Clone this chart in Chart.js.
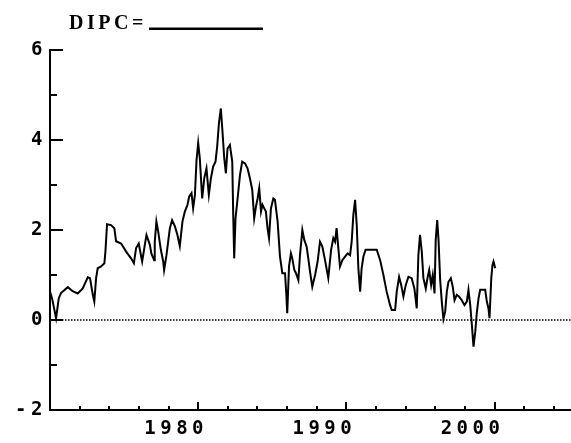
<!DOCTYPE html>
<html>
<head>
<meta charset="utf-8">
<script src="https://cdn.jsdelivr.net/npm/chart.js@4/dist/chart.umd.min.js"></script>
<style>
  body { margin: 0; background: #fff; }
  #wrap { width: 571px; height: 443px; }
</style>
</head>
<body>
<div id="wrap"><canvas id="dipcChart" width="571" height="443"></canvas></div>
<script>
/* ===== data ===== */
const years = [
  1970.00,1970.14,1970.41,1970.59,1970.74,1971.20,1971.53,1971.87,1972.21,1972.55,1972.70,1972.89,1972.99,1973.11,1973.22,1973.45,1973.67,1973.74,1973.85,1974.12,1974.34,1974.46,1974.80,1975.14,1975.47,1975.66,1975.81,1975.99,
  1976.13,1976.22,1976.40,1976.51,1976.74,1976.84,1977.03,1977.07,1977.18,1977.30,1977.48,1977.64,1977.70,1977.86,1978.09,1978.24,1978.43,1978.60,1978.76,1978.94,1979.10,1979.28,1979.39,1979.55,1979.66,1979.78,1979.89,1980.00,1980.11,1980.27,1980.41,1980.56,1980.72,1980.86,1981.01,1981.17,1981.28,1981.40,1981.53,1981.64,1981.76,1981.87,1981.98,1982.14,
  1982.30,1982.36,1982.43,1982.52,1982.66,1982.82,1982.97,1983.16,1983.33,1983.49,1983.65,1983.78,1983.90,1984.01,1984.12,1984.24,1984.34,1984.46,1984.57,1984.68,1984.78,1984.91,1985.07,1985.18,1985.36,1985.52,1985.68,1985.86,1985.95,1986.01,1986.13,1986.26,1986.35,1986.49,1986.60,1986.76,1986.87,1987.03,1987.16,1987.32,1987.43,1987.55,1987.70,1987.89,1988.06,1988.22,
  1988.38,1988.56,1988.78,1988.97,1989.12,1989.24,1989.34,1989.46,1989.57,1989.73,1989.91,1990.09,1990.25,1990.36,1990.47,1990.59,1990.70,1990.81,1990.93,1991.03,1991.15,1991.30,1992.05,1992.28,1992.50,1992.72,1992.95,1993.06,1993.29,1993.40,1993.56,1993.70,1993.85,1994.01,1994.19,
  1994.41,1994.59,1994.75,1994.86,1994.97,1995.09,1995.20,1995.36,1995.49,1995.59,1995.72,1995.83,1995.95,1996.03,1996.13,1996.22,1996.33,1996.44,1996.55,1996.67,1996.78,1996.89,1997.05,1997.18,1997.30,1997.45,1997.61,1997.79,1997.97,1998.13,1998.24,1998.36,1998.47,1998.58,1998.70,1998.80,1998.92,1999.03,1999.37,1999.48,1999.59,1999.66,1999.78,1999.86,1999.93,2000.05
];
const dipc = [
  0.63,0.48,0.04,0.48,0.60,0.73,0.64,0.59,0.70,0.95,0.93,0.56,0.41,0.93,1.15,1.19,1.26,1.52,2.13,2.11,2.04,1.75,1.70,1.52,1.37,1.26,1.60,1.70,
  1.45,1.30,1.67,1.89,1.67,1.48,1.33,1.74,2.19,1.97,1.56,1.30,1.11,1.44,2.04,2.22,2.08,1.89,1.64,2.19,2.41,2.56,2.74,2.82,2.48,2.78,3.56,3.93,3.59,2.70,3.15,3.37,2.78,3.15,3.41,3.52,3.85,4.37,4.70,4.19,3.59,3.26,3.81,3.89,
  3.52,2.41,1.37,2.26,2.70,3.22,3.52,3.48,3.37,3.15,2.89,2.26,2.52,2.70,2.93,2.41,2.56,2.48,2.41,2.04,1.82,2.48,2.70,2.67,2.19,1.41,1.04,1.04,0.56,0.15,1.19,1.48,1.37,1.11,1.04,0.89,1.44,2.00,1.78,1.63,1.37,1.07,0.74,1.00,1.30,1.74,
  1.63,1.33,0.93,1.56,1.82,1.74,2.04,1.59,1.19,1.33,1.41,1.48,1.44,1.74,2.33,2.67,2.11,1.15,0.63,1.15,1.41,1.56,1.56,1.33,1.00,0.63,0.33,0.22,0.22,0.63,0.96,0.78,0.52,0.78,0.96,
  0.93,0.70,0.26,1.44,1.89,1.52,0.93,0.70,0.96,1.11,0.78,1.00,0.59,1.78,2.22,1.78,0.89,0.41,0.02,0.19,0.63,0.85,0.93,0.74,0.44,0.56,0.52,0.44,0.33,0.41,0.67,0.33,-0.11,-0.59,-0.26,0.15,0.48,0.67,0.67,0.41,0.26,0.04,0.93,1.22,1.30,1.15
];

/* ===== axes ===== */
const xMin = 1970, xMax = 2005.16;
const yMin = -2, yMax = 6;
const xLabels = [1980, 1990, 2000];
const xMinor = [1972,1974,1976,1978,1982,1984,1986,1988,1992,1994,1996,1998,2002,2004];
const yLabels = [-2, 0, 2, 4, 6];
const yMinor = [-1, 1, 3, 5];
const titleText = "DIPC=";

/* tick marks drawn inside the plot, like the original */
const insideTicks = {
  id: "insideTicks",
  beforeDraw(chart){
    chart.ctx.letterSpacing = "4.5px";
  },
  afterDraw(chart){
    const { ctx, chartArea: a, scales: { x, y } } = chart;
    ctx.save();
    ctx.strokeStyle = "#000";
    ctx.lineWidth = 2;
    ctx.beginPath();
    yLabels.forEach(v => {
      const p = Math.round(y.getPixelForValue(v));
      ctx.moveTo(a.left, p); ctx.lineTo(a.left + 13, p);
    });
    yMinor.forEach(v => {
      const p = Math.round(y.getPixelForValue(v));
      ctx.moveTo(a.left, p); ctx.lineTo(a.left + 7, p);
    });
    xLabels.forEach(v => {
      const p = Math.round(x.getPixelForValue(v));
      ctx.moveTo(p, a.bottom); ctx.lineTo(p, a.bottom - 8);
    });
    xMinor.forEach(v => {
      const p = Math.round(x.getPixelForValue(v));
      ctx.moveTo(p, a.bottom); ctx.lineTo(p, a.bottom - 4);
    });
    ctx.stroke();

    // title with blank line after it
    ctx.letterSpacing = "3.5px";
    ctx.fillStyle = "#000";
    ctx.font = "bold 20px 'Liberation Serif'";
    ctx.textBaseline = "alphabetic";
    ctx.fillText(titleText, 69, 29);
    ctx.fillRect(149, 27.5, 114, 2.5);
    ctx.restore();
  }
};

const ctx = document.getElementById("dipcChart").getContext("2d");

new Chart(ctx, {
  type: "line",
  data: {
    datasets: [
      {
        data: years.map((yr, i) => ({ x: yr, y: dipc[i] })),
        borderColor: "#000",
        borderWidth: 2,
        pointRadius: 0,
        tension: 0,
        fill: false
      },
      {
        // zero reference line
        data: [{ x: xMin, y: 0 }, { x: xMax, y: 0 }],
        borderColor: "#000",
        borderWidth: 1.5,
        borderDash: [1.5, 1.5],
        pointRadius: 0,
        fill: false
      }
    ]
  },
  options: {
    responsive: false,
    animation: false,
    layout: { padding: { top: 50, right: 0, left: 0, bottom: 0 } },
    plugins: {
      legend: { display: false },
      tooltip: { enabled: false }
    },
    scales: {
      x: {
        type: "linear",
        min: xMin,
        max: xMax,
        afterBuildTicks: s => { s.ticks = xLabels.map(v => ({ value: v })); },
        afterFit: s => { s.height = 33; },
        grid: { display: false, drawTicks: false },
        border: { display: true, color: "#000", width: 2 },
        ticks: {
          color: "#000",
          padding: 8,
          labelOffset: -22,
          maxRotation: 0,
          font: { family: "'DejaVu Sans Mono'", size: 19, weight: "bold" },
          callback: v => String(v)
        }
      },
      y: {
        min: yMin,
        max: yMax,
        afterBuildTicks: s => { s.ticks = yLabels.map(v => ({ value: v })); },
        afterFit: s => { s.width = 50; },
        grid: { display: false, drawTicks: false },
        border: { display: true, color: "#000", width: 2 },
        ticks: {
          color: "#000",
          padding: 3,
          font: { family: "'DejaVu Sans Mono'", size: 19, weight: "bold" }
        }
      }
    }
  },
  plugins: [insideTicks]
});
</script>
</body>
</html>
